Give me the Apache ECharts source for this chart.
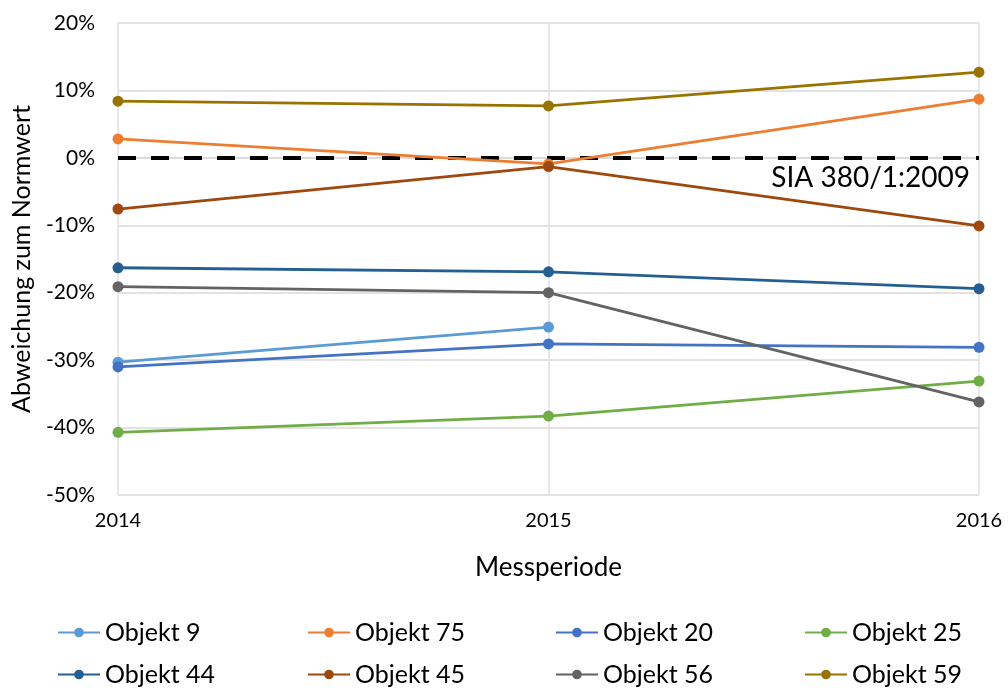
<!DOCTYPE html>
<html><head><meta charset="utf-8">
<script src="https://cdn.jsdelivr.net/npm/echarts@6/dist/echarts.min.js"></script>
<style>html,body{margin:0;padding:0;background:#fff}#c{width:1008px;height:688px}</style>
</head><body><div id="c"></div>
<script>
const categories = ['2014', '2015', '2016'];
const yTicks = [-50, -40, -30, -20, -10, 0, 10, 20];
const names = ['Objekt 9', 'Objekt 75', 'Objekt 20', 'Objekt 25', 'Objekt 44', 'Objekt 45', 'Objekt 56', 'Objekt 59'];
const obj9 = [-30.3, -25.1, null];
const obj75 = [2.8, -0.9, 8.7];
const obj20 = [-31.0, -27.6, -28.1];
const obj25 = [-40.7, -38.3, -33.1];
const obj44 = [-16.3, -16.9, -19.4];
const obj45 = [-7.6, -1.3, -10.1];
const obj56 = [-19.1, -20.0, -36.2];
const obj59 = [8.4, 7.7, 12.7];
const normLabel = 'SIA 380/1:2009';
const colors = ['#5B9BD5', '#ED7D31', '#4472C4', '#70AD47', '#255E91', '#9E480E', '#636363', '#997300'];
const values = [obj9, obj75, obj20, obj25, obj44, obj45, obj56, obj59];
const font = 'Lato, "Noto Sans", sans-serif';

const legendPos = [[52, 615], [302, 615], [550, 615], [799, 615], [52, 657], [302, 657], [550, 657], [799, 657]];
const legends = names.map((n, i) => ({
  data: [n], left: legendPos[i][0], top: legendPos[i][1], itemWidth: 42, itemHeight: 12,
  textStyle: {fontFamily: font, fontSize: 25, color: '#000'}, itemGap: 0
}));

const series = names.map((n, i) => ({
  name: n, type: 'line', data: values[i], color: colors[i],
  symbol: 'circle', symbolSize: 11, lineStyle: {width: 2.8}, connectNulls: false,
  z: 3
}));
series[0].markLine = {
  silent: true, symbol: 'none', z: 2,
  lineStyle: {color: '#000', type: [18, 15], width: 4},
  label: {show: true, position: 'insideEndBottom', formatter: normLabel, fontFamily: font, fontSize: 28, color: '#000', distance: [9, 6]},
  data: [{yAxis: 0}]
};

const chart = echarts.init(document.getElementById('c'));
chart.setOption({
  animation: false,
  legend: legends,
  grid: {left: 118, right: 29, top: 23, bottom: 193, containLabel: false, outerBoundsMode: 'none'},
  xAxis: {
    type: 'category', data: categories, boundaryGap: false,
    name: 'Messperiode', nameLocation: 'middle', nameGap: 60,
    nameTextStyle: {fontFamily: font, fontSize: 26, color: '#000'},
    axisLine: {lineStyle: {color: '#d9d9d9', width: 1.5}},
    axisTick: {show: false},
    axisLabel: {fontFamily: font, fontSize: 20, color: '#000', margin: 16},
    splitLine: {show: true, lineStyle: {color: '#e0e0e0', width: 1.5}}
  },
  yAxis: {
    type: 'value', min: -50, max: 20, interval: 10,
    name: 'Abweichung zum Normwert', nameLocation: 'middle', nameGap: 84,
    nameTextStyle: {fontFamily: font, fontSize: 25, color: '#000'},
    axisLine: {show: false}, axisTick: {show: false},
    axisLabel: {fontFamily: font, fontSize: 21, color: '#000', margin: 23, formatter: v => yTicks.includes(v) ? v + '%' : ''},
    splitLine: {lineStyle: {color: '#d9d9d9', width: 1.5}}
  },
  series: series
});
</script></body></html>
